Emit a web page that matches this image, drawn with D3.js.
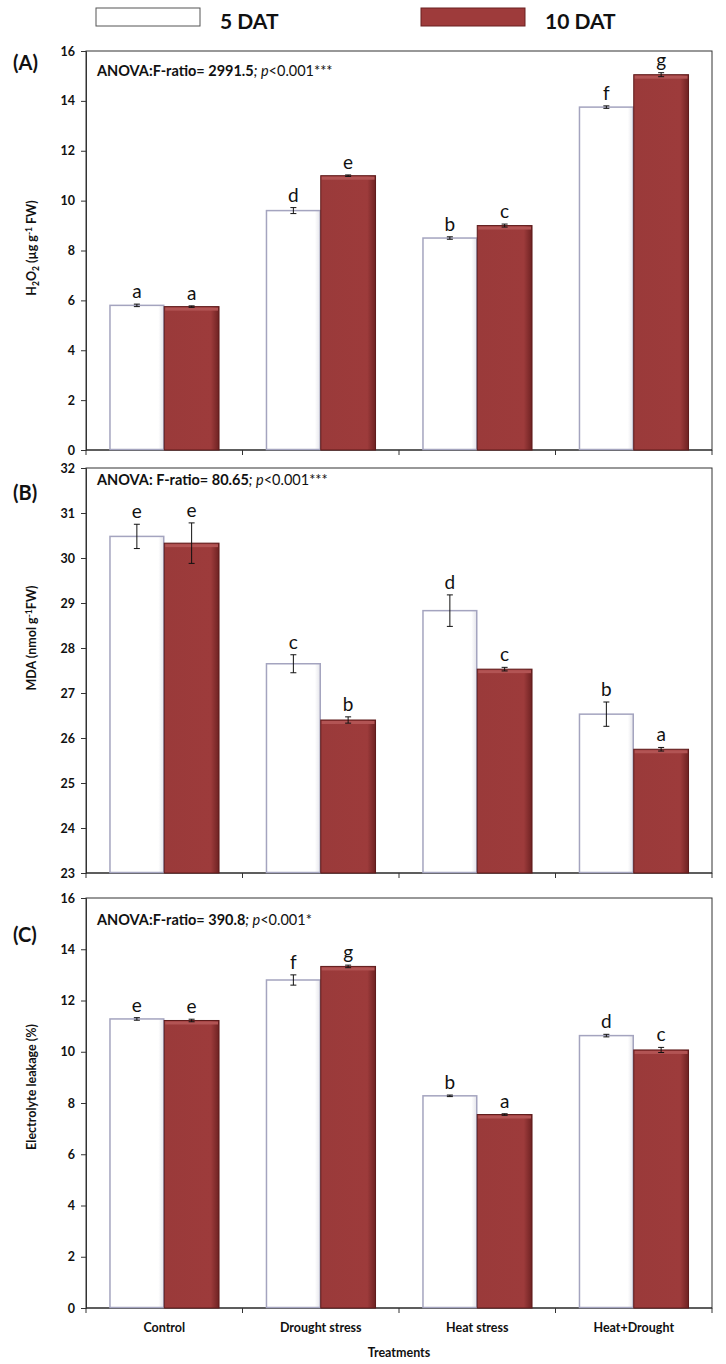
<!DOCTYPE html>
<html><head><meta charset="utf-8">
<script src="https://cdn.jsdelivr.net/npm/d3@7"></script>
<style>body{margin:0;background:#fff}svg{display:block}</style>
</head><body>
<script>
const categories = ["Control","Drought stress","Heat stress","Heat+Drought"];
const seriesNames = ["5 DAT","10 DAT"];
// Panel A: H2O2
const h2o2_5 = [5.8, 9.6, 8.5, 13.75];
const h2o2_10 = [5.75, 11.0, 9.0, 15.05];
const h2o2_err5 = [0.05, 0.12, 0.05, 0.05];
const h2o2_err10 = [0.03, 0.03, 0.06, 0.08];
const h2o2_let5 = ["a","d","b","f"];
const h2o2_let10 = ["a","e","c","g"];
// Panel B: MDA
const mda_5 = [30.48, 27.65, 28.83, 26.53];
const mda_10 = [30.33, 26.4, 27.53, 25.75];
const mda_err5 = [0.27, 0.2, 0.35, 0.27];
const mda_err10 = [0.45, 0.07, 0.04, 0.04];
const mda_let5 = ["e","c","d","b"];
const mda_let10 = ["e","b","c","a"];
// Panel C: Electrolyte leakage
const el_5 = [11.28, 12.8, 8.28, 10.63];
const el_10 = [11.22, 13.33, 7.55, 10.07];
const el_err5 = [0.05, 0.2, 0.03, 0.05];
const el_err10 = [0.05, 0.05, 0.03, 0.1];
const el_let5 = ["e","f","b","d"];
const el_let10 = ["e","g","a","c"];
const ticksA = [0,2,4,6,8,10,12,14,16];
const ticksB = [23,24,25,26,27,28,29,30,31,32];
const ticksC = [0,2,4,6,8,10,12,14,16];

const W = 726, H = 1364;
const left = 86, right = 712;
const font = "Lato, 'Open Sans', sans-serif";
const svg = d3.select("body").append("svg").attr("width", W).attr("height", H);
const defs = svg.append("defs");
const g1 = defs.append("linearGradient").attr("id","redg").attr("x1","0").attr("x2","1").attr("y1","0").attr("y2","0");
g1.append("stop").attr("offset","0").attr("stop-color","#9a3a3a");
g1.append("stop").attr("offset","0.85").attr("stop-color","#9d3b3b");
g1.append("stop").attr("offset","1").attr("stop-color","#6e2222");
const g2 = defs.append("linearGradient").attr("id","whg").attr("x1","0").attr("x2","1").attr("y1","0").attr("y2","0");
g2.append("stop").attr("offset","0").attr("stop-color","#ffffff");
g2.append("stop").attr("offset","0.9").attr("stop-color","#ffffff");
g2.append("stop").attr("offset","1").attr("stop-color","#e4e4ea");

const x0 = d3.scaleBand().domain(categories).range([left, right]).paddingInner(0.3).paddingOuter(0.15);
const x1 = d3.scaleBand().domain(seriesNames).range([0, x0.bandwidth()]);

// Legend
const legend = svg.append("g");
[[seriesNames[0], 96, 220, "#ffffff", "#555"], [seriesNames[1], 421, 545, "#9e3b3b", "#6b2020"]].forEach(([n, rx, tx, fill, st]) => {
  legend.append("rect").attr("x", rx).attr("y", 8).attr("width", 104).attr("height", 18).attr("fill", fill).attr("stroke", st).attr("stroke-width", 1);
  legend.append("text").attr("x", tx).attr("y", 29).text(n).attr("font-family", font).attr("font-weight", "bold").attr("font-size", 21).attr("fill", "#111");
});

function panel(opts) {
  const y = d3.scaleLinear().domain(opts.domain).range([opts.bottom, opts.top]);
  const g = svg.append("g");
  g.append("rect").attr("x", left).attr("y", opts.top).attr("width", right - left).attr("height", opts.bottom - opts.top)
    .attr("fill", "none").attr("stroke", "#333").attr("stroke-width", 1);
  const ya = g.append("g").attr("transform", `translate(${left},0)`)
    .call(d3.axisLeft(y).tickValues(opts.ticks).tickSize(5).tickFormat(d3.format("d")));
  ya.select(".domain").attr("stroke", "#333");
  ya.selectAll("line").attr("stroke", "#333");
  ya.selectAll("text").attr("font-family", font).attr("font-weight", "bold").attr("font-size", 12.5).attr("fill", "#111").attr("dx", "-3");
  g.append("line").attr("x1", left).attr("x2", right).attr("y1", opts.bottom).attr("y2", opts.bottom).attr("stroke", "#222");
  const step = x0.step();
  d3.range(categories.length + 1).forEach(i => {
    const xx = x0(categories[0]) - step * x0.paddingOuter() + i * step;
    g.append("line").attr("x1", xx).attr("x2", xx).attr("y1", opts.bottom).attr("y2", opts.bottom + 5).attr("stroke", "#333");
  });
  const data = [];
  categories.forEach((c, i) => {
    data.push({c, s: seriesNames[0], v: opts.v5[i], e: opts.e5[i], l: opts.l5[i]});
    data.push({c, s: seriesNames[1], v: opts.v10[i], e: opts.e10[i], l: opts.l10[i]});
  });
  const base = opts.domain[0];
  data.forEach(d => {
    const bx = x0(d.c) + x1(d.s), bw = x1.bandwidth();
    const top = y(d.v), h = y(base) - top;
    if (d.s === seriesNames[0]) {
      g.append("rect").attr("x", bx + 0.5).attr("y", top).attr("width", bw - 1).attr("height", h - 0.5)
        .attr("fill", "url(#whg)").attr("stroke", "#a4a4bf").attr("stroke-width", 1.5);
    } else {
      g.append("rect").attr("x", bx).attr("y", top).attr("width", bw).attr("height", h)
        .attr("fill", "url(#redg)").attr("stroke", "#5e1a1a").attr("stroke-width", 1);
      g.append("rect").attr("x", bx + 1).attr("y", top + 1).attr("width", bw - 2).attr("height", 3).attr("fill", "#b25454");
    }
    const cx = bx + bw / 2;
    const yt = y(d.v + d.e), yb = y(d.v - d.e);
    g.append("line").attr("x1", cx).attr("x2", cx).attr("y1", yt).attr("y2", yb).attr("stroke", "#111").attr("stroke-width", 1);
    [yt, yb].forEach(yy => g.append("line").attr("x1", cx - 3).attr("x2", cx + 3).attr("y1", yy).attr("y2", yy).attr("stroke", "#111").attr("stroke-width", 1));
    g.append("text").attr("x", cx).attr("y", yt - 6).attr("text-anchor", "middle").text(d.l)
      .attr("font-family", font).attr("font-size", 19).attr("fill", "#111");
  });
  g.append("text").attr("x", 13).attr("y", opts.labelY).text(opts.label).attr("font-family", font).attr("font-weight", "bold").attr("font-size", 20).attr("fill", "#111");
  const t = g.append("text").attr("x", 97).attr("y", opts.anovaY).attr("font-family", font).attr("font-size", 14.5).attr("fill", "#111");
  t.append("tspan").attr("font-weight", "bold").text(opts.anova);
  t.append("tspan").attr("font-style", "italic").text("; p");
  t.append("tspan").text("<0.001" + opts.stars);
  const yt = g.append("text").attr("transform", `translate(36,${opts.titleY}) rotate(-90)`)
    .attr("text-anchor", "middle").attr("font-family", font).attr("font-weight", "bold").attr("font-size", 12.5).attr("fill", "#111");
  opts.ytitle(yt);
  return g;
}

panel({domain: [0, 16], top: 51, bottom: 450, ticks: ticksA, v5: h2o2_5, v10: h2o2_10, e5: h2o2_err5, e10: h2o2_err10, l5: h2o2_let5, l10: h2o2_let10,
  label: "(A)", labelY: 70, anovaY: 76, titleY: 248, anova: "ANOVA:F-ratio= 2991.5", stars: "***",
  ytitle: t => { t.append("tspan").text("H"); t.append("tspan").attr("font-size", 8.5).attr("dy", 3).text("2");
    t.append("tspan").attr("dy", -3).text("O"); t.append("tspan").attr("font-size", 8.5).attr("dy", 3).text("2");
    t.append("tspan").attr("dy", -3).text(" (µg g"); t.append("tspan").attr("font-size", 8.5).attr("dy", -4).text("-1");
    t.append("tspan").attr("dy", 4).text(" FW)"); }});
panel({domain: [23, 32], top: 468, bottom: 873, ticks: ticksB, v5: mda_5, v10: mda_10, e5: mda_err5, e10: mda_err10, l5: mda_let5, l10: mda_let10,
  label: "(B)", labelY: 500, anovaY: 485, titleY: 638, anova: "ANOVA: F-ratio= 80.65", stars: "***",
  ytitle: t => { t.append("tspan").text("MDA (nmol g"); t.append("tspan").attr("font-size", 8.5).attr("dy", -4).text("-1");
    t.append("tspan").attr("dy", 4).text("FW)"); }});
panel({domain: [0, 16], top: 898, bottom: 1308, ticks: ticksC, v5: el_5, v10: el_10, e5: el_err5, e10: el_err10, l5: el_let5, l10: el_let10,
  label: "(C)", labelY: 942, anovaY: 925, titleY: 1087, anova: "ANOVA:F-ratio= 390.8", stars: "*",
  ytitle: t => { t.text("Electrolyte leakage (%)"); }});

categories.forEach(c => {
  svg.append("text").attr("x", x0(c) + x0.bandwidth() / 2).attr("y", 1332).attr("text-anchor", "middle").text(c)
    .attr("font-family", font).attr("font-weight", "bold").attr("font-size", 12.5).attr("fill", "#111");
});
svg.append("text").attr("x", (left + right) / 2).attr("y", 1357).attr("text-anchor", "middle").text("Treatments")
  .attr("font-family", font).attr("font-weight", "bold").attr("font-size", 12.5).attr("fill", "#111");
</script>
</body></html>
